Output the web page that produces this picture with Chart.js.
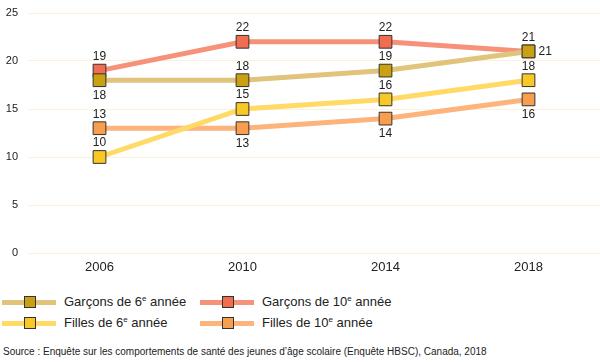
<!DOCTYPE html>
<html>
<head>
<meta charset="utf-8">
<script src="https://cdn.jsdelivr.net/npm/chart.js@4"></script>
<style>
    body { margin: 0; width: 600px; height: 362px; overflow: hidden; background: #fff;
           font-family: "Liberation Sans", Arial, sans-serif; color: #222; }
    #wrap { position: relative; width: 600px; height: 280px; }
    .legend { position: absolute; left: 0; top: 292px; width: 600px; }
    .item { position: absolute; height: 20px; font-size: 13px; line-height: 20px; white-space: nowrap; }
    .item .ln { position: absolute; left: 0; top: 8px; width: 54px; height: 5px; }
    .item .mk { position: absolute; left: 22px; top: 4px; width: 10px; height: 10px; border: 1px solid #333; }
    .item .tx { position: absolute; left: 62px; top: 0; }
    sup { font-size: 8px; vertical-align: 5px; line-height: 0; }
    .source { position: absolute; left: 3px; top: 346px; font-size: 10px; color: #222; }
</style>
</head>
<body>
<div id="wrap"><canvas id="myLine" width="600" height="280"></canvas></div>
<div class="legend" id="legend"></div>
<div class="source">Source : Enquête sur les comportements de santé des jeunes d’âge scolaire (Enquête HBSC), Canada, 2018</div>
<script>
const years = ['2006', '2010', '2014', '2018'];
const garcons6 = [18, 18, 19, 21];
const garcons10 = [19, 22, 22, 21];
const filles6 = [10, 15, 16, 18];
const filles10 = [13, 13, 14, 16];
const yTicks = [0, 5, 10, 15, 20, 25];

// where each value label sits relative to its point
const labelPos = {
    garcons6: ['below', 'above', 'above', 'right'],
    garcons10: ['above', 'above', 'above', 'above'],
    filles6: ['above', 'above', 'above', 'above'],
    filles10: ['above', 'below', 'below', 'below']
};

function serie(label, html, data, line, mark, pos) {
    return {
        label: label,
        legendHtml: html,
        data: data,
        borderColor: line,
        backgroundColor: line,
        borderWidth: 5,
        pointStyle: 'rect',
        pointRadius: 9,
        pointHoverRadius: 9,
        pointBackgroundColor: mark,
        pointBorderColor: '#333',
        pointBorderWidth: 1,
        labelPos: pos,
        tension: 0
    };
}

const datasets = [
    serie('Garçons de 6e année', 'Garçons de 6<sup>e</sup> année', garcons6, '#e0c47c', '#c9a113', labelPos.garcons6),
    serie('Garçons de 10e année', 'Garçons de 10<sup>e</sup> année', garcons10, '#f6917a', '#f26c50', labelPos.garcons10),
    serie('Filles de 6e année', 'Filles de 6<sup>e</sup> année', filles6, '#ffda66', '#f8c825', labelPos.filles6),
    serie('Filles de 10e année', 'Filles de 10<sup>e</sup> année', filles10, '#fcb47c', '#f89e4e', labelPos.filles10)
];

// value labels next to the points
const valueLabels = {
    id: 'valueLabels',
    afterDatasetsDraw(chart) {
        const ctx = chart.ctx;
        ctx.save();
        ctx.font = '12px "Liberation Sans", Arial, sans-serif';
        ctx.fillStyle = '#222';
        chart.data.datasets.forEach((ds, i) => {
            chart.getDatasetMeta(i).data.forEach((pt, j) => {
                const pos = ds.labelPos[j];
                let x = pt.x, y = pt.y;
                ctx.textAlign = 'center';
                ctx.textBaseline = 'middle';
                if (pos === 'above') y -= 14;
                else if (pos === 'below') y += 15;
                else { x += 10; ctx.textAlign = 'left'; }
                ctx.fillText(ds.data[j], x, y);
            });
        });
        ctx.restore();
    }
};

const lineConfig = {
    type: 'line',
    data: { labels: years, datasets: datasets },
    options: {
        responsive: false,
        animation: false,
        layout: { autoPadding: false, padding: { top: 13, right: 0, left: 0, bottom: 0 } },
        plugins: {
            legend: { display: false },
            tooltip: { enabled: false }
        },
        scales: {
            x: {
                offset: true,
                grid: { display: false, drawTicks: false },
                border: { display: false },
                ticks: { color: '#222', font: { size: 13, family: '"Liberation Sans", Arial, sans-serif' }, padding: 7 },
                afterFit(scale) { scale.height = 27; scale.paddingLeft = 0; scale.paddingRight = 0; }
            },
            y: {
                min: 0,
                max: 25,
                afterBuildTicks(scale) { scale.ticks = yTicks.map(v => ({ value: v })); },
                grid: { color: '#fdf1da', lineWidth: 1, drawTicks: false },
                border: { display: false },
                ticks: { color: '#222', font: { size: 11, family: '"Liberation Sans", Arial, sans-serif' }, padding: 10 },
                afterFit(scale) { scale.width = 28; scale.paddingTop = 0; scale.paddingBottom = 0; }
            }
        }
    },
    plugins: [valueLabels]
};

const myLine = new Chart(document.getElementById('myLine'), lineConfig);

// legend in two columns, built from the datasets
const legendSpots = [[2, 0], [200, 0], [2, 21], [200, 21]];
const legend = document.getElementById('legend');
datasets.forEach((ds, i) => {
    const el = document.createElement('div');
    el.className = 'item';
    el.style.left = legendSpots[i][0] + 'px';
    el.style.top = legendSpots[i][1] + 'px';
    el.innerHTML = '<span class="ln" style="background:' + ds.borderColor + '"></span>' +
        '<span class="mk" style="background:' + ds.pointBackgroundColor + '"></span>' +
        '<span class="tx">' + ds.legendHtml + '</span>';
    legend.appendChild(el);
});
</script>
</body>
</html>
